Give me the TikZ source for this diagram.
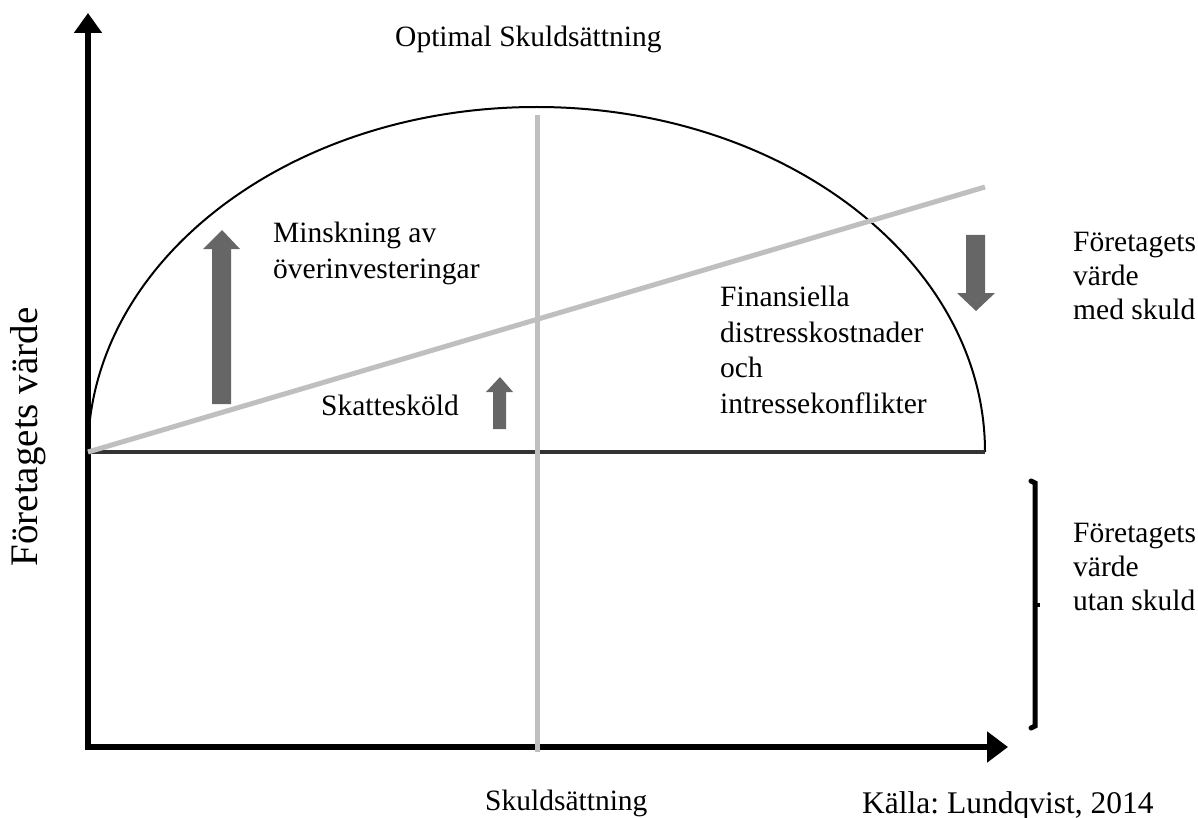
\documentclass[tikz,border=0pt]{standalone}
\usepackage{fontspec}
\setmainfont{Liberation Serif}
\frenchspacing
\usetikzlibrary{arrows.meta}
\tikzset{
  axis/.style={line width=5.5pt},
  fatarrow/.style={fill=black!60},
  greyline/.style={line width=5pt,gray!50},
  lbl/.style={anchor=base west,inner sep=0pt,align=left,font=\fontsize{29.5}{35.5}\selectfont},
}
\begin{document}
\begin{tikzpicture}[x=1pt,y=-1pt]
\useasboundingbox (0,0) rectangle (1198,818);
\coordinate (O) at (88,747);
\coordinate (ytop) at (88,13);
\coordinate (xend) at (1008,747);
\coordinate (L) at (88,452);
\coordinate (R) at (985,452);
\coordinate (S) at (985,187);
\coordinate (mtop) at (537,115);
\coordinate (mbot) at (537,752);
% axes
\draw[axis,-{Triangle[length=20pt,width=27pt]}] (88,750) -- (ytop);
\draw[axis,-{Triangle[length=21pt,width=30pt]}] (85,747) -- (xend);
% half ellipse and lines
\draw[line width=2pt] (L) arc[start angle=180,end angle=360,x radius=448.5,y radius=345];
\draw[line width=4pt,black!80] (L) -- (R);
\draw[greyline] (mtop) -- (mbot);
\draw[greyline] (L) -- (S);
% fat arrows
\fill[fatarrow] (212,404) -- (212,249) -- (203,249) -- (222,230) -- (240,249) -- (231,249) -- (231,404) -- cycle;
\fill[fatarrow] (493,429) -- (493,392) -- (486,392) -- (500,377) -- (513,392) -- (506,392) -- (506,429) -- cycle;
\fill[fatarrow] (966,235) -- (966,293) -- (957,293) -- (976,311) -- (995,293) -- (985,293) -- (985,235) -- cycle;
% bracket
\draw[line width=5pt,line cap=round] (1031,481) -- (1035,483) -- (1035,726) -- (1031,728);
\draw[line width=4pt] (1035,605) -- (1040,605);
% labels (multi-line nodes sit on their last line)
\node[lbl] (opt) at (395,47) {Optimal Skuldsättning};
\node[lbl] (xlab) at (485,810) {Skuldsättning};
\node[lbl,font=\fontsize{31.5}{36}\selectfont] (src) at (862,813) {Källa: Lundqvist, 2014};
\node[lbl] (minsk) at (273,278) {Minskning av\\överinvesteringar};
\node[lbl] (fin) at (720,413) {Finansiella\\distresskostnader\\och\\intressekonflikter};
\node[lbl] (skatt) at (321,415) {Skattesköld};
\node[lbl,font=\fontsize{29.5}{34}\selectfont] (med) at (1073,319) {Företagets\\värde\\med skuld};
\node[lbl,font=\fontsize{29.5}{34}\selectfont] (utan) at (1073,610) {Företagets\\värde\\utan skuld};
\node[rotate=90,inner sep=0pt,font=\fontsize{39}{40}\selectfont] (ylab) at (28,437) {Företagets värde};
\end{tikzpicture}
\end{document}
